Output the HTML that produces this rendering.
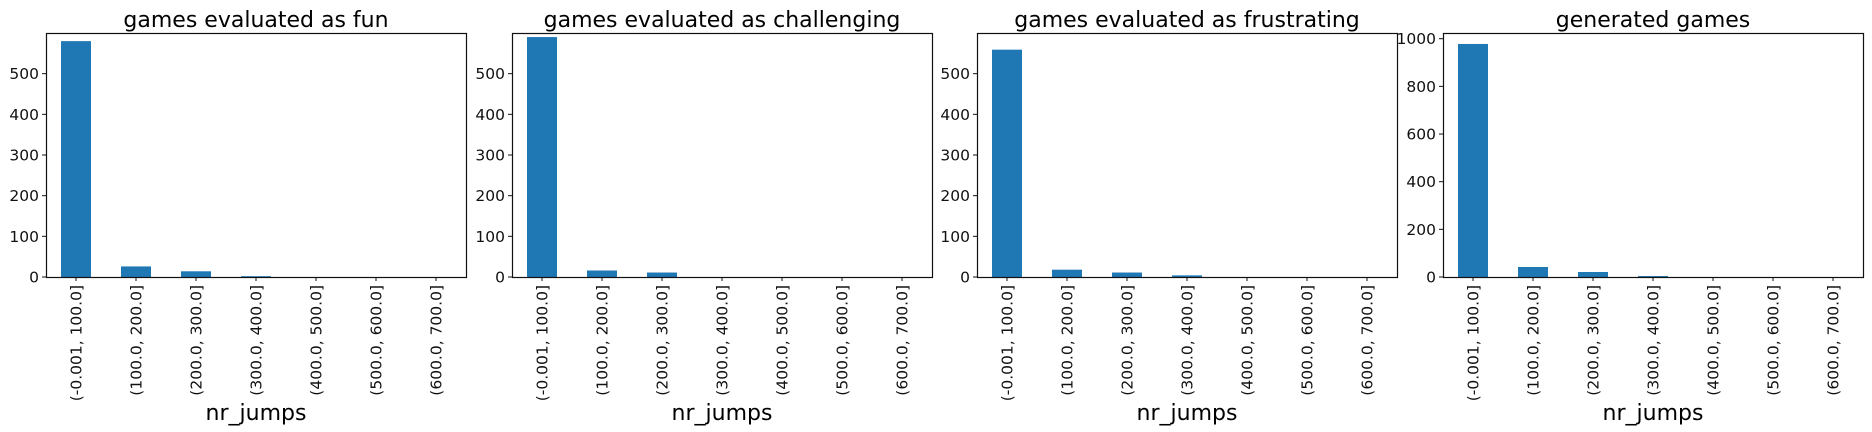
<!DOCTYPE html>
<html><head><meta charset="utf-8"><style>
html,body{margin:0;padding:0;background:#fff;}
svg{display:block;font-family:"DejaVu Sans","Liberation Sans",sans-serif;}
</style></head><body>
<svg id="chart" width="1872" height="432" viewBox="0 0 1872 432" xmlns="http://www.w3.org/2000/svg"></svg>
<script>
const categories = ["(-0.001, 100.0]","(100.0, 200.0]","(200.0, 300.0]","(300.0, 400.0]","(400.0, 500.0]","(500.0, 600.0]","(600.0, 700.0]"];
const titles = ["games evaluated as fun","games evaluated as challenging","games evaluated as frustrating","generated games"];
const funValues = [580, 26, 14, 2, 0, 0, 0];
const challengingValues = [590, 16, 11, 0, 0, 0, 0];
const frustratingValues = [559, 18, 11, 4, 0, 0, 0];
const generatedValues = [978, 42, 21, 4, 0, 0, 0];
const yMaxes = [600, 600, 600, 1024];
const yTicks1 = [0, 100, 200, 300, 400, 500];
const yTicks4 = [0, 200, 400, 600, 800, 1000];

const NS = "http://www.w3.org/2000/svg";
const svg = document.getElementById("chart");
const series = [funValues, challengingValues, frustratingValues, generatedValues];
const tickSets = [yTicks1, yTicks1, yTicks1, yTicks4];
const lefts = [46, 512, 977, 1443];
const W = 420, TOP = 33, BOTTOM = 277;
function mk(tag, attrs, parent){
  const e = document.createElementNS(NS, tag);
  for (const k in attrs) e.setAttribute(k, attrs[k]);
  parent.appendChild(e); return e;
}
series.forEach((vals, p) => {
  const L = lefts[p];
  const yMax = yMaxes[p];
  const y = v => BOTTOM - (v / yMax) * (BOTTOM - TOP);
  const x = i => L + (i + 0.5) * (W / categories.length);
  const g = mk("g", {}, svg);
  
  
  const t = mk("text", {x: L + W / 2, y: 27, "text-anchor": "middle", "font-size": 22, fill: "#000"}, g);
  
  
  t.textContent = titles[p];
  vals.forEach((v, i) => {
    const bw = 30;
    const r = mk("rect", {x: x(i) - bw / 2, y: y(v), width: bw, height: BOTTOM - y(v), fill: "#1f77b4"}, g);
    
    
  });
  const frame = mk("rect", {x: L + 0.5, y: TOP + 0.5, width: W, height: BOTTOM - TOP, fill: "none", stroke: "#111", "stroke-width": 1.2}, g);
  
  
  tickSets[p].forEach(tv => {
    const ty = y(tv);
    mk("line", {x1: L - 4, x2: L, y1: ty, y2: ty, stroke: "#111"}, g);
    const tl = mk("text", {x: L - 7, y: ty + 5.5, "text-anchor": "end", "font-size": 15.5, fill: "#111"}, g);
    
    
    tl.textContent = tv;
  });
  categories.forEach((c, i) => {
    const cx = x(i);
    mk("line", {x1: cx, x2: cx, y1: BOTTOM, y2: BOTTOM + 4, stroke: "#111"}, g);
    const tl = mk("text", {x: 0, y: 0, "text-anchor": "end", "font-size": 15.5, fill: "#111", transform: `translate(${cx + 5.5},${BOTTOM + 8}) rotate(-90)`}, g);
    
    
    tl.textContent = c;
  });
  const xl = mk("text", {x: L + W / 2, y: 420, "text-anchor": "middle", "font-size": 22, fill: "#000"}, g);
  
  
  xl.textContent = "nr_jumps";
});
</script>
</body></html>
